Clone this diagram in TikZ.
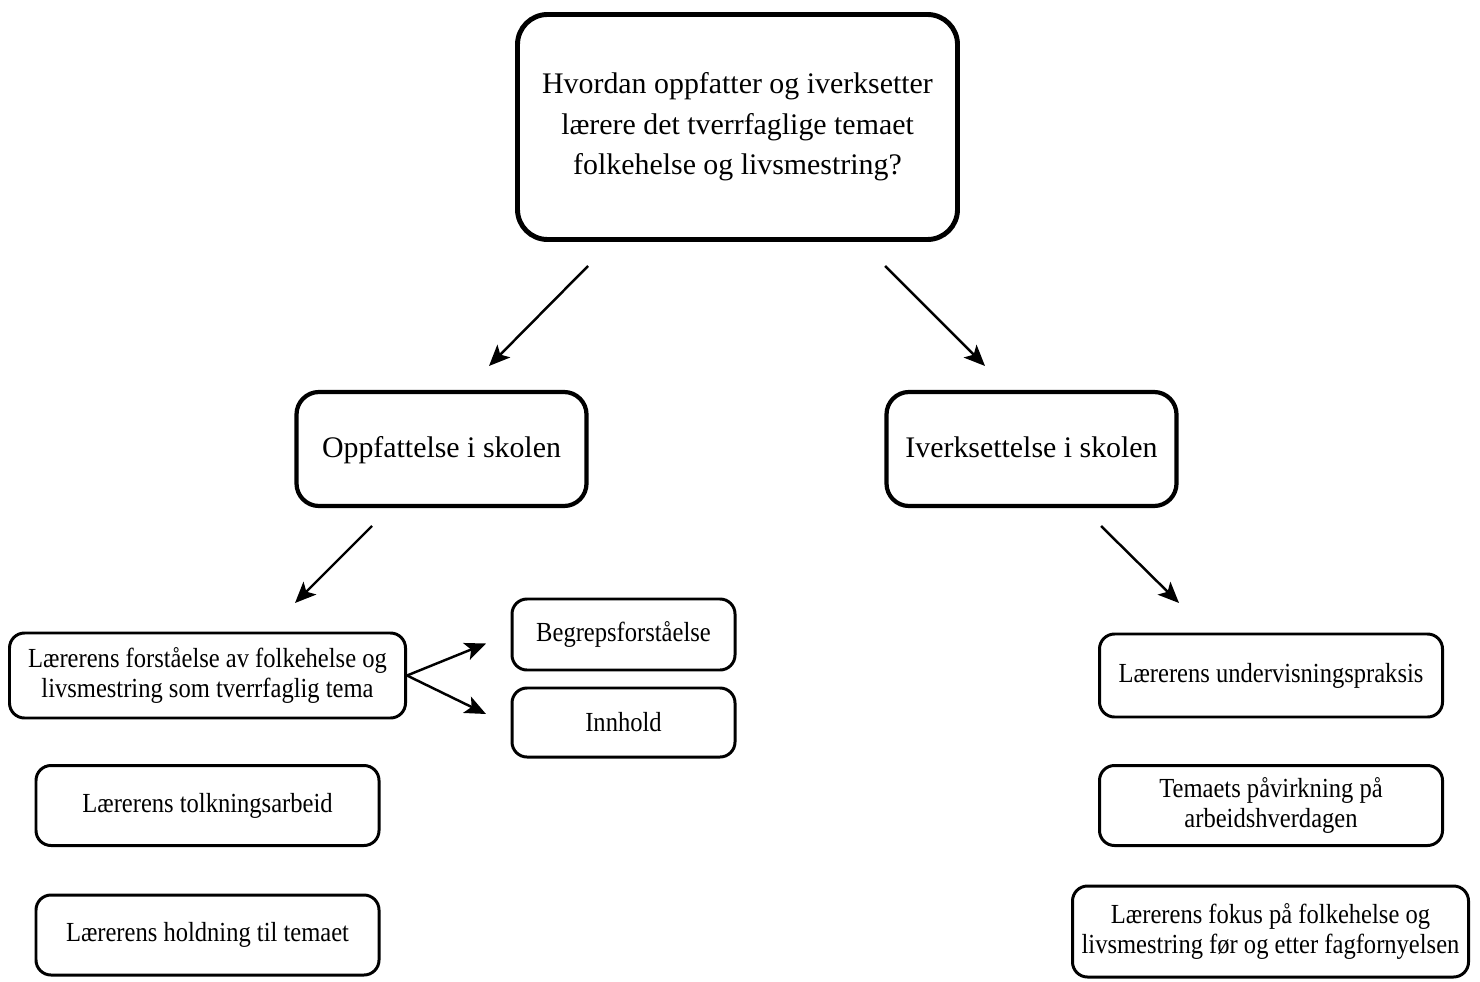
\documentclass[tikz,border=0pt]{standalone}
\usepackage{fontspec}
\setmainfont{Liberation Serif}
\newfontfamily\narrowserif[FakeStretch=0.89]{Liberation Serif}
\usetikzlibrary{arrows.meta,calc,positioning}

\begin{document}
\begin{tikzpicture}[
      qbox/.style={draw,line width=2.8pt,rounded corners=0.6cm,align=center,
        minimum width=8.8cm,minimum height=4.5cm,font=\fontsize{17}{23}\selectfont},
      mbox/.style={draw,line width=2.4pt,rounded corners=0.45cm,align=center,
        minimum width=5.8cm,minimum height=2.28cm,text depth=0.22em,
        font=\fontsize{17}{23}\selectfont},
      sbox/.style={draw,line width=1.7pt,rounded corners=0.3cm,align=center,
        minimum width=6.86cm,minimum height=1.6cm,font=\narrowserif\fontsize{15.7}{17.5}\selectfont},
      arr/.style={-{Stealth[length=0.42cm,width=0.36cm,inset=0.1cm]},line width=1.4pt},
      >=Stealth
    ]
    \useasboundingbox (0,0) rectangle (29.6,19.62);

    % Question
    \node[qbox] (q) at (14.75,17.08) {Hvordan oppfatter og iverksetter\\lærere det tverrfaglige temaet\\folkehelse og livsmestring?};

    % Two sides
    \node[mbox] (opp) at (8.83,10.64) {Oppfattelse i skolen};
    \node[mbox] (iv) at (20.63,10.64) {Iverksettelse i skolen};

    % Left side
    \node[sbox,minimum width=7.92cm,minimum height=1.7cm] (forst) at (4.15,6.11) {Lærerens forståelse av folkehelse og\\livsmestring som tverrfaglig tema};
    \node[sbox,minimum width=4.46cm,minimum height=1.42cm] (begr) at (12.47,6.93) {Begrepsforståelse};
    \node[sbox,minimum width=4.46cm,minimum height=1.38cm] (innh) at (12.47,5.17) {Innhold};
    \node[sbox] (tolk) at (4.15,3.51) {Lærerens tolkningsarbeid};
    \node[sbox] (hold) at (4.15,0.92) {Lærerens holdning til temaet};

    % Right side
    \node[sbox,minimum height=1.66cm] (underv) at (25.42,6.11) {Lærerens undervisningspraksis};
    \node[sbox] (paav) at (25.42,3.51) {Temaets påvirkning på\\arbeidshverdagen};
    \node[sbox,minimum width=7.92cm,minimum height=1.82cm] (fokus) at (25.41,0.99) {Lærerens fokus på folkehelse og\\livsmestring før og etter fagfornyelsen};

    % Arrow ends
    \coordinate (q-l) at (11.76,14.30);
    \coordinate (q-r) at (17.70,14.30);
    \coordinate (opp-in) at (9.78,12.30);
    \coordinate (iv-in) at (19.70,12.30);
    \coordinate (opp-out) at (7.44,9.10);
    \coordinate (iv-out) at (22.02,9.10);
    \coordinate (forst-in) at (5.90,7.56);
    \coordinate (underv-in) at (23.58,7.56);
    \coordinate (begr-in) at (9.72,6.75);
    \coordinate (innh-in) at (9.72,5.34);

    \draw[arr] (q-l) -- (opp-in);
    \draw[arr] (q-r) -- (iv-in);
    \draw[arr] (opp-out) -- (forst-in);
    \draw[arr] (iv-out) -- (underv-in);
    \draw[arr] (forst.east) -- (begr-in);
    \draw[arr] (forst.east) -- (innh-in);

  \end{tikzpicture}
\end{document}
